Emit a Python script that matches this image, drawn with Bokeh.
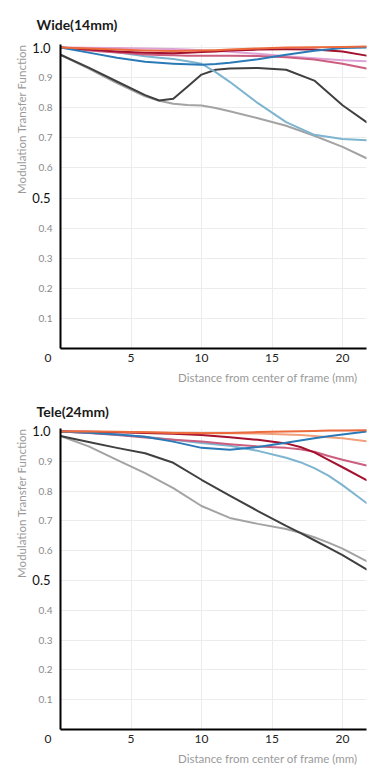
import math
from bokeh.plotting import figure
from bokeh.layouts import column
from bokeh.models import Range1d, FixedTicker, Title, LinearAxis, PrintfTickFormatter
from bokeh.embed import file_html
from bokeh.resources import INLINE

# ---------------- data ----------------
X_TICKS = [5, 10, 15, 20]
Y_SMALL_TICKS = [0.1, 0.2, 0.3, 0.4, 0.6, 0.7, 0.8, 0.9]
Y_BIG_TICKS = [0.5, 1.0]
ORIGIN_TICK = [0]
Y_GRID = [0.1, 0.2, 0.3, 0.4, 0.5, 0.6, 0.7, 0.8, 0.9, 1.0]
Y_TITLE = "Modulation Transfer Function"
X_TITLE = "Distance from center of frame (mm)"

# Wide (14mm)
wide_x = [0, 2, 4, 6, 7, 8, 9, 10, 11, 12, 14, 16, 18, 20, 21.7]
wide_lightgray = [0.976, 0.930, 0.882, 0.838, 0.823, 0.813, 0.809, 0.807, 0.799, 0.788, 0.765, 0.740, 0.707, 0.670, 0.632]
wide_darkgray = [0.976, 0.933, 0.887, 0.842, 0.824, 0.830, 0.870, 0.910, 0.926, 0.930, 0.932, 0.926, 0.890, 0.808, 0.752]
wide_lightblue = [1.000, 0.994, 0.984, 0.971, 0.966, 0.962, 0.954, 0.946, 0.918, 0.886, 0.815, 0.752, 0.710, 0.696, 0.692]
wide_blue = [1.000, 0.983, 0.966, 0.953, 0.949, 0.946, 0.944, 0.943, 0.945, 0.949, 0.961, 0.976, 0.989, 0.998, 1.000]
wide_rose = [1.000, 0.990, 0.983, 0.977, 0.975, 0.974, 0.973, 0.973, 0.973, 0.973, 0.972, 0.968, 0.960, 0.946, 0.930]
wide_lilac = [1.000, 0.999, 0.998, 0.997, 0.996, 0.995, 0.993, 0.991, 0.989, 0.986, 0.979, 0.971, 0.964, 0.958, 0.954]
wide_darkred = [1.000, 0.993, 0.987, 0.983, 0.982, 0.981, 0.983, 0.985, 0.987, 0.990, 0.993, 0.994, 0.993, 0.987, 0.973]
wide_orange = [1.000, 0.997, 0.993, 0.990, 0.989, 0.988, 0.989, 0.990, 0.991, 0.993, 0.997, 1.000, 1.001, 1.002, 1.003]

# Tele (24mm)
tele_x = [0, 2, 4, 6, 8, 10, 12, 14, 16, 17, 18, 19, 20, 21.7]
tele_lightgray = [0.985, 0.950, 0.905, 0.860, 0.810, 0.750, 0.710, 0.690, 0.673, 0.660, 0.645, 0.627, 0.607, 0.565]
tele_darkgray = [0.985, 0.965, 0.945, 0.927, 0.895, 0.838, 0.785, 0.733, 0.683, 0.660, 0.635, 0.610, 0.585, 0.537]
tele_lightblue = [1.000, 0.996, 0.990, 0.982, 0.972, 0.961, 0.952, 0.935, 0.912, 0.897, 0.877, 0.852, 0.820, 0.760]
tele_blue = [1.000, 0.996, 0.990, 0.982, 0.966, 0.945, 0.939, 0.948, 0.962, 0.970, 0.977, 0.984, 0.990, 1.000]
tele_rose = [1.000, 0.995, 0.988, 0.980, 0.972, 0.966, 0.957, 0.950, 0.945, 0.940, 0.932, 0.918, 0.905, 0.886]
tele_darkred = [1.000, 0.999, 0.997, 0.995, 0.992, 0.988, 0.981, 0.972, 0.960, 0.948, 0.930, 0.905, 0.880, 0.837]
tele_salmon = [1.000, 0.999, 0.998, 0.997, 0.996, 0.995, 0.994, 0.993, 0.990, 0.988, 0.985, 0.981, 0.977, 0.967]
tele_orange = [1.000, 1.000, 0.999, 0.997, 0.995, 0.994, 0.995, 0.998, 1.000, 1.001, 1.002, 1.003, 1.003, 1.004]

C_LIGHTGRAY = "#a3a3a3"
C_DARKGRAY = "#404040"
C_LIGHTBLUE = "#7db4d0"
C_BLUE = "#2a7ab8"
C_ROSE = "#cc5f80"
C_LILAC = "#dea3d6"
C_SALMON = "#f2a07c"
C_DARKRED = "#a3112e"
C_ORANGE = "#ec6a3c"

wide_series = [
    (wide_lightgray, C_LIGHTGRAY), (wide_darkgray, C_DARKGRAY),
    (wide_lightblue, C_LIGHTBLUE), (wide_lilac, C_LILAC), (wide_rose, C_ROSE),
    (wide_darkred, C_DARKRED), (wide_blue, C_BLUE), (wide_orange, C_ORANGE),
]
tele_series = [
    (tele_lightgray, C_LIGHTGRAY), (tele_darkgray, C_DARKGRAY),
    (tele_lightblue, C_LIGHTBLUE), (tele_rose, C_ROSE), (tele_salmon, C_SALMON),
    (tele_darkred, C_DARKRED), (tele_blue, C_BLUE), (tele_orange, C_ORANGE),
]

FONT = "Lato"


def plain_axis(ax):
    ax.major_tick_line_color = None
    ax.minor_tick_line_color = None
    ax.major_tick_out = 0
    ax.major_tick_in = 0
    ax.minor_tick_out = 0
    ax.minor_tick_in = 0
    ax.major_label_text_font = FONT


def make_panel(title, xs, series, b_top, frame_h, b_bottom, title_standoff):
    p = figure(width=378, height=b_top + frame_h + b_bottom,
               x_range=Range1d(0, 21.7), y_range=Range1d(0, 1.01),
               output_backend="svg", toolbar_location=None,
               min_border_left=60, min_border_right=12,
               min_border_top=b_top, min_border_bottom=b_bottom)
    p.outline_line_color = None
    p.background_fill_color = "white"
    p.border_fill_color = "white"

    # title
    p.title.text = title
    p.title.align = "left"
    p.title.offset = -24
    p.title.standoff = title_standoff
    p.title.text_font = FONT
    p.title.text_font_size = "14px"
    p.title.text_font_style = "bold"
    p.title.text_color = "#1a1a1a"

    # grid
    p.xgrid.ticker = FixedTicker(ticks=X_TICKS)
    p.ygrid.ticker = FixedTicker(ticks=Y_GRID)
    p.xgrid.grid_line_color = "#ececec"
    p.ygrid.grid_line_color = "#ececec"

    # x axis
    xa = p.xaxis[0]
    plain_axis(xa)
    xa.ticker = FixedTicker(ticks=X_TICKS)
    xa.axis_line_color = "black"
    xa.axis_line_width = 2
    xa.major_label_standoff = 5
    xa.major_label_text_font_size = "12px"
    xa.major_label_text_color = "#222222"

    # y axis (small grey labels)
    ya = p.yaxis[0]
    plain_axis(ya)
    ya.ticker = FixedTicker(ticks=Y_SMALL_TICKS)
    ya.axis_line_color = "black"
    ya.axis_line_width = 2
    ya.major_label_standoff = 8
    ya.major_label_text_font_size = "10px"
    ya.major_label_text_color = "#8a8a8a"

    # emphasised labels 0.5 / 1.0, pulled back over the first axis
    yb = LinearAxis(ticker=FixedTicker(ticks=Y_BIG_TICKS),
                    formatter=PrintfTickFormatter(format="%.1f"))
    plain_axis(yb)
    yb.axis_line_color = None
    yb.major_label_standoff = -15
    yb.major_label_text_font_size = "13px"
    yb.major_label_text_color = "#111111"
    p.add_layout(yb, "left")

    # origin label "0" (sits just below the origin)
    yc = LinearAxis(ticker=FixedTicker(ticks=ORIGIN_TICK))
    plain_axis(yc)
    yc.axis_line_color = None
    yc.major_label_standoff = -22
    yc.major_label_text_font_size = "12px"
    yc.major_label_text_color = "#222222"
    yc.major_label_overrides = {0: "\n0"}
    p.add_layout(yc, "left")

    # axis titles
    p.add_layout(Title(text=Y_TITLE, align="right", offset=0, standoff=4,
                       text_font=FONT, text_font_size="11.5px", text_font_style="normal",
                       text_color="#9a9a9a"), "left")
    p.add_layout(Title(text=X_TITLE, align="right", offset=9, standoff=12,
                       vertical_align="top",
                       text_font=FONT, text_font_size="11.5px", text_font_style="normal",
                       text_color="#9a9a9a"), "below")

    for ys, col in series:
        p.line(xs, ys, line_color=col, line_width=2, line_join="round", line_cap="round")
    return p


p1 = make_panel("Wide(14mm)", wide_x, wide_series, 44, 304, 44, 23)
p2 = make_panel("Tele(24mm)", tele_x, tele_series, 35, 302, 44, 17)

layout = column(p1, p2, spacing=0)
open("out.html", "w").write(file_html(layout, INLINE))
